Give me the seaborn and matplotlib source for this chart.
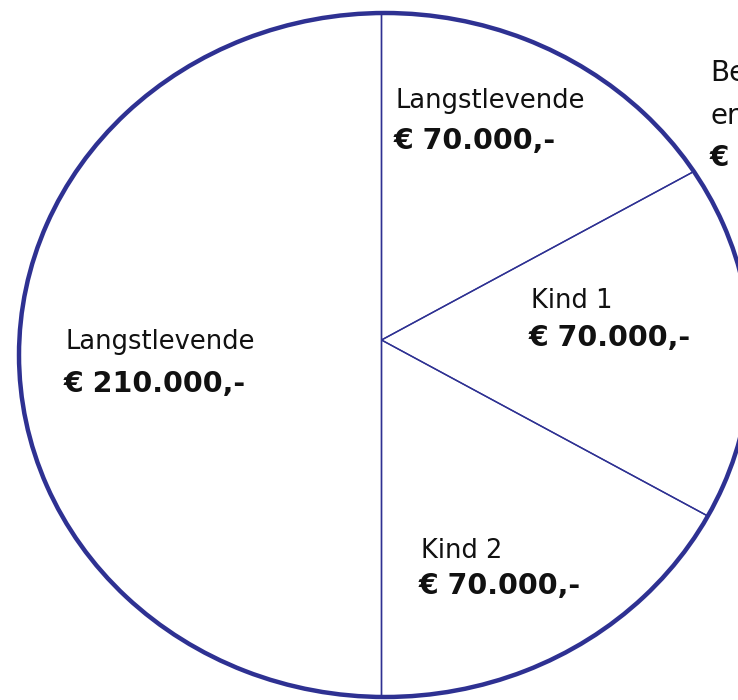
import matplotlib
matplotlib.use("Agg")
import matplotlib.pyplot as plt
import seaborn as sns

sns.set_theme(style="white")
plt.rcParams["font.family"] = ["DejaVu Sans"]

# ---- data ----
labels = ["Langstlevende", "Kind 1", "Kind 2", "Langstlevende"]
values = [70000, 70000, 70000, 210000]
amount_labels = ["€ 70.000,-", "€ 70.000,-", "€ 70.000,-", "€ 210.000,-"]
side_lines = ["Besloten", "erfenis", "€ 420.000,-"]

W, H = 738, 700
color = "#2E3192"

fig = plt.figure(figsize=(W / 100, H / 100), dpi=100)
ax = fig.add_axes([0, 0, 1, 1])

# pixel geometry of the ellipse (outline) and the wedge vertex
cx_px, cy_px = 385, 355
rx_px, ry_px = 366, 342
vx_px, vy_px = 381.5, 340

# outline: single-value pie -> full ellipse, no radial lines
outline, _ = ax.pie([1], radius=1, center=(0, 0), startangle=90,
                    wedgeprops=dict(facecolor="none", edgecolor=color, linewidth=3.2))
# wedges (thin radial lines), clipped to outline
vx = (vx_px - cx_px) / rx_px
vy = -(vy_px - cy_px) / ry_px
wedges, _ = ax.pie(values, radius=1.3, center=(vx, vy), startangle=90, counterclock=False,
                   wedgeprops=dict(facecolor="none", edgecolor=color, linewidth=1.0))
for w in wedges:
    w.set_clip_on(True)
    w.set_clip_path(outline[0])
outline[0].set_zorder(5)

ax.set_aspect("auto")
ax.set_xlim(-cx_px / rx_px, (W - cx_px) / rx_px)
ax.set_ylim(-(H - cy_px) / ry_px, cy_px / ry_px)
ax.axis("off")

def px(x, y):
    return x / W, 1 - y / H

# text positions (pixels, baseline)
name_pos = [(396, 108), (531, 308), (421, 558), (66, 349)]
amt_pos = [(394, 149), (529, 346), (419, 594), (64, 392)]
for lab, (x, y) in zip(labels, name_pos):
    fig.text(*px(x, y), lab, fontsize=18.5, color="#111111", ha="left", va="baseline")
for lab, (x, y) in zip(amount_labels, amt_pos):
    fig.text(*px(x, y), lab, fontsize=20.5, fontweight="bold", color="#111111",
             ha="left", va="baseline")

side_pos = [(710, 81), (710, 124), (710, 166)]
for i, (lab, (x, y)) in enumerate(zip(side_lines, side_pos)):
    fig.text(*px(x, y), lab, fontsize=20, color="#111111", ha="left", va="baseline",
             fontweight="bold" if i == 2 else "normal")

fig.savefig("out.png", dpi=100)
